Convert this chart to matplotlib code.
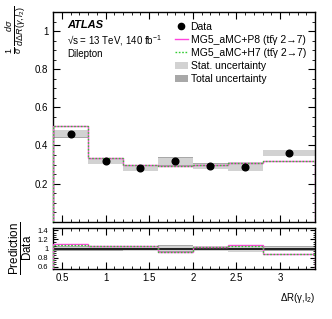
import numpy as np
import matplotlib
matplotlib.use("Agg")
import matplotlib.pyplot as plt
from matplotlib.patches import Patch
from matplotlib.lines import Line2D
from matplotlib.ticker import MultipleLocator

plt.rcParams['font.family'] = ['Liberation Sans', 'DejaVu Sans']
plt.rcParams['mathtext.fontset'] = 'custom'
plt.rcParams['mathtext.rm'] = 'Liberation Sans'
plt.rcParams['mathtext.it'] = 'Liberation Sans:italic'

# bin edges and values
edges = [0.4, 0.8, 1.2, 1.6, 2.0, 2.4, 2.8, 3.4]
data_x = [0.6, 1.0, 1.4, 1.8, 2.2, 2.6, 3.1]
data_y = [0.462, 0.318, 0.283, 0.316, 0.291, 0.289, 0.360]
total_unc = [0.021, 0.016, 0.017, 0.022, 0.016, 0.024, 0.016]
stat_unc = [0.019, 0.014, 0.015, 0.020, 0.014, 0.022, 0.014]
pred_p8 = [0.503, 0.335, 0.297, 0.294, 0.300, 0.309, 0.318]
pred_h7 = [0.500, 0.334, 0.296, 0.293, 0.299, 0.308, 0.317]

data_y = np.array(data_y)
edges = np.array(edges)
widths = np.diff(edges)
total_unc = np.array(total_unc)
stat_unc = np.array(stat_unc)

c_p8 = "#ff44dd"
c_h7 = "#33cc33"
c_stat = "#d2d2d2"
c_tot = "#a8a8a8"

fig = plt.figure(figsize=(3.32, 3.19), dpi=100)
ax = fig.add_axes([0.160, 0.305, 0.789, 0.657])
rax = fig.add_axes([0.160, 0.157, 0.789, 0.128])

# main panel
ax.bar(edges[:-1], 2 * total_unc, bottom=data_y - total_unc, width=widths,
       align='edge', color=c_tot, linewidth=0, zorder=1)
ax.bar(edges[:-1], 2 * stat_unc, bottom=data_y - stat_unc, width=widths,
       align='edge', color=c_stat, linewidth=0, zorder=2)
ax.stairs(pred_p8, edges, color=c_p8, linewidth=1.0, zorder=3)
ax.stairs(pred_h7, edges, color=c_h7, linewidth=1.0, linestyle=(0, (1.2, 1.2)), zorder=4)
ax.plot(data_x, data_y, 'o', color='black', markersize=4.8, zorder=5)

ax.set_xlim(0.4, 3.4)
ax.set_ylim(0.0, 1.1)
ax.yaxis.set_minor_locator(MultipleLocator(0.05))
ax.xaxis.set_major_locator(MultipleLocator(0.5))
ax.xaxis.set_minor_locator(MultipleLocator(0.1))
ax.set_yticks([0.2, 0.4, 0.6, 0.8, 1.0])
ax.set_yticklabels(["0.2", "0.4", "0.6", "0.8", "1"])
ax.tick_params(axis='x', labelbottom=False)
ax.set_ylabel(r"$\frac{1}{\sigma}\,\frac{d\sigma}{d\Delta R(\gamma,l_2)}$", fontsize=9.2,
              loc='top')
ax.yaxis.set_label_coords(-0.095, 1.03)

ax.text(0.053, 0.938, "ATLAS", transform=ax.transAxes, fontsize=8,
        fontweight='bold', fontstyle='italic', va='center')
ax.text(0.053, 0.866, "\u221as = 13 TeV, 140 fb$^{\\mathrm{-1}}$", transform=ax.transAxes,
        fontsize=7, va='center')
ax.text(0.053, 0.800, "Dilepton", transform=ax.transAxes, fontsize=7, va='center')

handles = [
    Line2D([], [], marker='o', color='black', linestyle='none', markersize=4.5),
    Line2D([], [], color=c_p8, linewidth=1.0),
    Line2D([], [], color=c_h7, linewidth=1.0, linestyle=(0, (1.2, 1.2))),
    Patch(facecolor=c_stat, edgecolor='none'),
    Patch(facecolor=c_tot, edgecolor='none'),
]
labels = ["Data",
          "MG5_aMC+P8 (tt\u0304\u03b3 2\u21927)",
          "MG5_aMC+H7 (tt\u0304\u03b3 2\u21927)",
          "Stat. uncertainty",
          "Total uncertainty"]
ax.legend(handles, labels, loc='upper left', bbox_to_anchor=(0.465, 0.955),
          frameon=False, fontsize=7.5, handlelength=1.25, handletextpad=0.25,
          labelspacing=0.3, borderaxespad=0, borderpad=0)

# ratio panel
rel_tot = total_unc / data_y
rel_stat = stat_unc / data_y
rax.bar(edges[:-1], 2 * rel_tot, bottom=1 - rel_tot, width=widths,
        align='edge', color=c_tot, linewidth=0, zorder=1)
rax.bar(edges[:-1], 2 * rel_stat, bottom=1 - rel_stat, width=widths,
        align='edge', color=c_stat, linewidth=0, zorder=2)
rax.axhline(1.0, color='black', linewidth=1.2, zorder=3)
rax.stairs(np.array(pred_p8) / data_y, edges, color=c_p8, linewidth=1.0, zorder=4)
rax.stairs(np.array(pred_h7) / data_y, edges, color=c_h7, linewidth=1.0,
           linestyle=(0, (1.2, 1.2)), zorder=5)
rax.set_xlim(0.4, 3.4)
rax.set_ylim(0.55, 1.45)
rax.set_yticks([0.6, 0.8, 1.0, 1.2, 1.4])
rax.set_yticklabels(["0.6", "0.8", "1", "1.2", "1.4"])
rax.yaxis.set_minor_locator(MultipleLocator(0.05))
rax.xaxis.set_minor_locator(MultipleLocator(0.1))
rax.set_xticks([0.5, 1, 1.5, 2, 2.5, 3])
rax.set_xticklabels(["0.5", "1", "1.5", "2", "2.5", "3"])
rax.set_ylabel(r"$\frac{\mathrm{Prediction}}{\mathrm{Data}}$", fontsize=12, labelpad=2)
rax.set_xlabel("\u0394R(\u03b3,l$_{2}$)", fontsize=7, loc='right', labelpad=6)

for a, ls in ((ax, 7), (rax, 5.5)):
    a.tick_params(which='both', direction='in', top=True, right=True)
    a.tick_params(which='major', length=5, width=0.8)
    a.tick_params(which='minor', length=2.5, width=0.6)
    a.tick_params(axis='y', labelsize=ls)
    for s in a.spines.values():
        s.set_linewidth(1.0)
rax.tick_params(axis='x', labelsize=7, pad=3)
rax.tick_params(axis='y', which='major', length=3.5)
rax.tick_params(axis='y', which='minor', length=1.8)

fig.savefig("out.png", dpi=100)
